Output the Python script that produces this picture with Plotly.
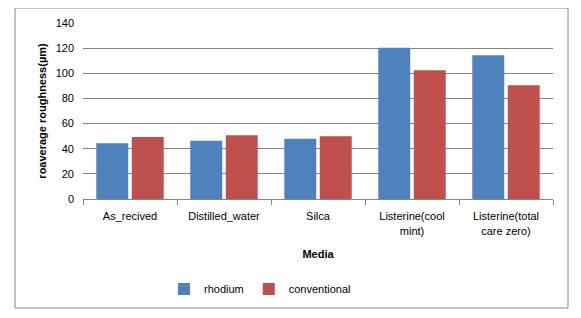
import plotly.graph_objects as go

categories = ["As_recived", "Distilled_water", "Silca", "Listerine(cool<br>mint)", "Listerine(total<br>care zero)"]
rhodium = [44.4, 46.3, 47.9, 120.3, 114.3]
conventional = [49.4, 50.8, 50.0, 102.4, 90.5]
y_ticks = [0, 20, 40, 60, 80, 100, 120, 140]

FONT = "Liberation Sans, Arial, sans-serif"

fig = go.Figure()
fig.add_trace(go.Bar(name="rhodium", x=categories, y=rhodium, marker=dict(color="#4F81BD", line=dict(width=0))))
fig.add_trace(go.Bar(name="conventional", x=categories, y=conventional, marker=dict(color="#C0504D", line=dict(width=0))))

# page body has an 8px margin; work in window pixel coords and subtract it
OFF = 8
W, H = 581 - OFF, 318 - OFF
L, T = 83 - OFF, 23 - OFF
R = W - (553 - OFF)
B = H - (199 - OFF)
pw, ph = W - L - R, H - T - B

def px_x(x):
    return (x - OFF - L) / pw

def px_y(y):
    return (H - B - (y - OFF)) / ph

fig.update_layout(
    width=W, height=H,
    margin=dict(l=L, r=R, t=T, b=B, autoexpand=False),
    paper_bgcolor="white", plot_bgcolor="white",
    barmode="group", bargap=0.245, bargroupgap=0.1,
    font=dict(family=FONT, size=11, color="#000000"),
    showlegend=True,
    legend=dict(orientation="h", x=px_x(164), xanchor="left", y=px_y(289), yanchor="middle",
                font=dict(family=FONT, size=11), itemwidth=30, traceorder="normal",
                tracegroupgap=0, itemsizing="constant", bgcolor="rgba(0,0,0,0)"),
    xaxis=dict(
        showgrid=False, showline=True, linecolor="#868686", linewidth=1,
        ticks="outside", tickson="boundaries", ticklen=5, tickcolor="#868686",
        ticklabelstandoff=7,
        tickfont=dict(family=FONT, size=11), automargin=False,
        title=dict(text="<b>Media</b>", font=dict(family=FONT, size=11), standoff=14),
    ),
    yaxis=dict(
        range=[0, 140], tickvals=y_ticks, showgrid=True, gridcolor="#868686", gridwidth=1,
        showline=False, zeroline=False, ticks="", ticklabelstandoff=8, automargin=False,
        tickfont=dict(family=FONT, size=11),
        title=dict(text="<b>roaverage roughness(µm)</b>", font=dict(family=FONT, size=11), standoff=6),
    ),
    shapes=[dict(type="rect", xref="paper", yref="paper",
                 x0=px_x(15), x1=px_x(568), y0=px_y(308), y1=px_y(8),
                 line=dict(color="#868686", width=1), fillcolor="rgba(0,0,0,0)", layer="below")],
)

fig.write_html("out.html")
